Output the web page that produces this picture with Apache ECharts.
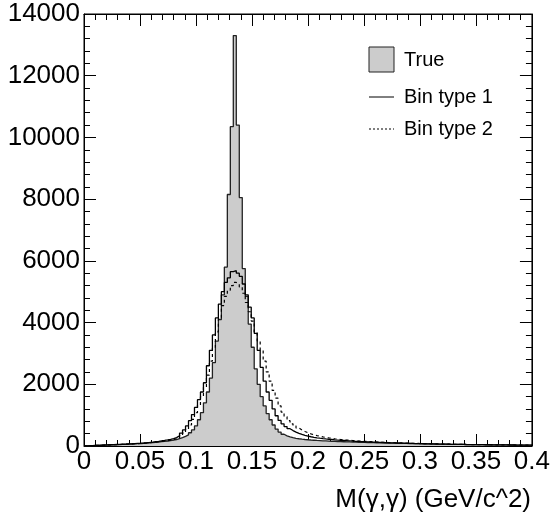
<!DOCTYPE html>
<html>
<head>
<meta charset="utf-8">
<script src="https://cdn.jsdelivr.net/npm/echarts@6/dist/echarts.min.js"></script>
<style>
html,body{margin:0;padding:0;background:#fff;}
#chart{width:553px;height:522px;}
</style>
</head>
<body>
<div id="chart"></div>
<script>
// Histogram: 150 bins from 0 to 0.4
var xMin = 0, xMax = 0.4, nBins = 150;
var xTicks = ['0','0.05','0.1','0.15','0.2','0.25','0.3','0.35','0.4'];
var yTicks = ['0','2000','4000','6000','8000','10000','12000','14000'];
var legendNames = ['True','Bin type 1','Bin type 2'];
var xTitle = 'M(\u03b3,\u03b3) (GeV/c^2)';

var trueCounts = [
 5, 8, 12, 17, 20, 25, 28, 32, 35, 38,
 42, 45, 50, 55, 60, 65, 70, 75, 80, 88,
 95, 100, 110, 120, 130, 140, 150, 160, 175, 190,
 210, 240, 270, 310, 360, 430, 520, 650, 850, 1080,
 1400, 1750, 2200, 2700, 3400, 4100, 4900, 5800, 8150, 10350,
 13300, 10400, 8050, 5750, 4850, 3950, 3200, 2500, 2000, 1600,
 1300, 1050, 850, 680, 550, 450, 380, 330, 295, 270,
 250, 235, 222, 211, 202, 194, 187, 180, 174, 168,
 163, 158, 153, 149, 145, 141, 138, 135, 131, 128,
 125, 122, 119, 116, 113, 110, 107, 104, 102, 100,
 97, 95, 93, 91, 89, 87, 85, 83, 81, 79,
 77, 75, 73, 71, 69, 67, 65, 63, 61, 60,
 58, 57, 55, 54, 52, 51, 50, 48, 47, 46,
 45, 44, 43, 42, 41, 40, 39, 38, 37, 36,
 35, 34, 33, 32, 31, 30, 29, 28, 28, 27
];
var binType1 = [
 6, 10, 14, 19, 23, 28, 32, 36, 40, 44,
 48, 52, 57, 62, 67, 72, 78, 84, 90, 97,
 105, 115, 126, 138, 150, 165, 180, 198, 218, 240,
 270, 330, 420, 520, 650, 820, 1020, 1250, 1500, 1750,
 2050, 2600, 3100, 3600, 4150, 4600, 5000, 5300, 5450, 5650,
 5680, 5600, 5500, 5250, 4900, 4500, 4150, 3650, 3100, 2550,
 2100, 1750, 1480, 1200, 980, 830, 720, 630, 560, 500,
 450, 410, 375, 345, 320, 300, 282, 266, 252, 240,
 229, 219, 210, 201, 193, 185, 178, 171, 165, 159,
 153, 148, 143, 138, 134, 130, 126, 122, 118, 114,
 110, 106, 103, 100, 97, 94, 91, 88, 85, 82,
 79, 77, 75, 73, 71, 69, 67, 65, 63, 61,
 59, 57, 55, 54, 52, 51, 50, 48, 47, 46,
 45, 44, 43, 42, 41, 40, 39, 38, 37, 36,
 35, 34, 33, 32, 31, 30, 29, 28, 28, 27
];
var binType2 = [
 5, 9, 13, 17, 21, 25, 29, 33, 37, 41,
 45, 49, 54, 58, 63, 68, 73, 79, 85, 92,
 99, 107, 116, 126, 137, 149, 162, 176, 192, 210,
 230, 260, 330, 420, 530, 680, 860, 1080, 1330, 1600,
 1900, 2300, 2750, 3200, 3700, 4150, 4550, 4850, 5050, 5200,
 5300, 5250, 5150, 4950, 4650, 4350, 4050, 3700, 3400, 3100,
 2750, 2400, 2100, 1800, 1550, 1300, 1100, 950, 820, 720,
 650, 580, 520, 470, 430, 395, 365, 338, 315, 295,
 277, 261, 247, 234, 222, 211, 201, 192, 184, 176,
 169, 162, 156, 150, 145, 140, 135, 130, 126, 122,
 118, 114, 110, 106, 103, 100, 97, 94, 91, 88,
 85, 82, 79, 77, 75, 72, 70, 68, 66, 64,
 62, 60, 58, 56, 54, 52, 51, 49, 48, 47,
 45, 44, 43, 42, 41, 40, 39, 38, 37, 36,
 35, 34, 33, 32, 31, 30, 29, 28, 28, 27
];

function histPoints(counts){
  var w = (xMax - xMin) / counts.length;
  var pts = [[xMin, 0]];
  for (var i = 0; i < counts.length; i++) pts.push([xMin + i * w, counts[i]]);
  pts.push([xMax, counts[counts.length - 1]]);
  pts.push([xMax, 0]);
  return pts;
}

var FONT = 'Liberation Sans, Arial, Helvetica, sans-serif';
var chart = echarts.init(document.getElementById('chart'), null, {renderer:'canvas'});

function axisCommon(){
  return {
    axisLine:{show:true, onZero:false, lineStyle:{color:'#000', width:1}},
    axisTick:{show:true, inside:true, length:12, lineStyle:{color:'#000', width:1}},
    minorTick:{show:true, splitNumber:5, length:6, lineStyle:{color:'#000', width:1}},
    splitLine:{show:false},
    minorSplitLine:{show:false}
  };
}

var option = {
  animation:false,
  backgroundColor:'#fff',
  grid:{left:84, right:19, top:14, bottom:76, show:true, borderColor:'#000', borderWidth:1, backgroundColor:'transparent'},
  xAxis:[
    Object.assign(axisCommon(), {type:'value', min:0, max:0.4, interval:0.05, position:'bottom',
      axisLabel:{show:true, color:'#000', fontSize:26, fontFamily:FONT, margin:3,
        formatter:function(v){ var i = Math.round(v/0.05); return xTicks[i] !== undefined ? xTicks[i] : ''; }}}),
    Object.assign(axisCommon(), {type:'value', min:0, max:0.4, interval:0.05, position:'top', axisLabel:{show:false}})
  ],
  yAxis:[
    Object.assign(axisCommon(), {type:'value', min:0, max:14000, interval:2000, position:'left',
      axisLabel:{show:true, color:'#000', fontSize:26, fontFamily:FONT, margin:4,
        formatter:function(v){ var i = Math.round(v/2000); return yTicks[i] !== undefined ? yTicks[i] : ''; }}}),
    Object.assign(axisCommon(), {type:'value', min:0, max:14000, interval:2000, position:'right', axisLabel:{show:false}})
  ],
  series:[
    {name:legendNames[0], type:'line', step:'end', data:histPoints(trueCounts), symbol:'none',
     lineStyle:{color:'#222', width:1.3}, areaStyle:{color:'#cccccc', opacity:1, origin:'start'}, z:2},
    {name:legendNames[1], type:'line', step:'end', data:histPoints(binType1), symbol:'none',
     lineStyle:{color:'#000', width:1.3}, z:3},
    {name:legendNames[2], type:'line', step:'end', data:histPoints(binType2), symbol:'none',
     lineStyle:{color:'#000', width:1.2, type:[3,3]}, z:3}
  ],
  graphic:[
    {type:'rect', shape:{x:369, y:47, width:25, height:25}, style:{fill:'#cccccc', stroke:'#222', lineWidth:1}},
    {type:'text', style:{x:404, y:60, text:legendNames[0], fill:'#000', font:'20px '+FONT, textVerticalAlign:'middle'}},
    {type:'line', shape:{x1:369, y1:97, x2:394, y2:97}, style:{stroke:'#000', lineWidth:1}},
    {type:'text', style:{x:404, y:97, text:legendNames[1], fill:'#000', font:'20px '+FONT, textVerticalAlign:'middle'}},
    {type:'line', shape:{x1:369, y1:129, x2:394, y2:129}, style:{stroke:'#000', lineWidth:1, lineDash:[2,2]}},
    {type:'text', style:{x:404, y:129, text:legendNames[2], fill:'#000', font:'20px '+FONT, textVerticalAlign:'middle'}},
    {type:'text', style:{x:531, y:500, text:xTitle, fill:'#000', font:'26px '+FONT, textAlign:'right', textVerticalAlign:'middle'}}
  ]
};
chart.setOption(option);
</script>
</body>
</html>
